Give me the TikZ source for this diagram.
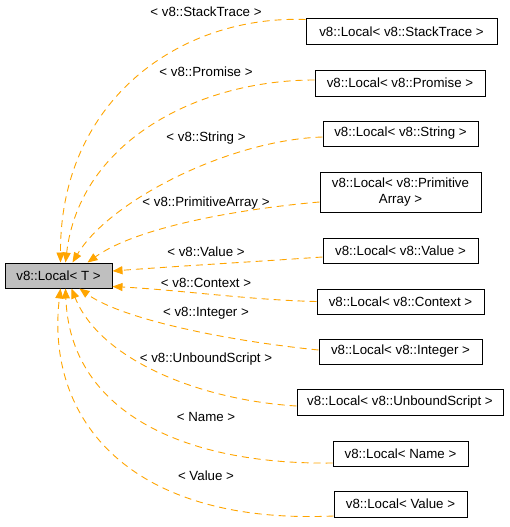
\documentclass[tikz,border=0pt]{standalone}
\usepackage{fontspec}
\setmainfont{Liberation Sans}
\usetikzlibrary{arrows.meta}
\definecolor{edgeorange}{HTML}{FFA500}
\definecolor{maingrey}{HTML}{BFBFBF}
\begin{document}
\begin{tikzpicture}[x=1pt,y=-1pt,
  every node/.style={font=\fontsize{13.3}{15.5}\selectfont, inner sep=0pt},
  cls/.style={draw=black, line width=1pt, fill=white, align=center},
  mainbox/.style={cls, fill=maingrey},
  lbl/.style={},
  edge/.style={draw=edgeorange, line width=0.9pt, dash pattern=on 7pt off 5pt,
    -{Triangle[length=10pt,width=8pt,fill=edgeorange,sep=0pt]}}]
\useasboundingbox (0,0) rectangle (509,527);
\fill[white] (0,0) rectangle (509,527);
% nodes
\node[mainbox, minimum width=107pt, minimum height=25pt] (main) at (58.5,275.5) {v8::Local{\fontsize{13.3}{15.5}\selectfont<} T >};
\node[cls, minimum width=191pt, minimum height=26pt] (st)  at (401.5,32) {v8::Local< v8::StackTrace >};
\node[cls, minimum width=170pt, minimum height=26pt] (pr)  at (400,83) {v8::Local< v8::Promise >};
\node[cls, minimum width=155pt, minimum height=25pt] (str) at (400.5,133.5) {v8::Local< v8::String >};
\node[cls, minimum width=161pt, minimum height=40pt] (pa)  at (400.5,192) {v8::Local< v8::Primitive\\Array >};
\node[cls, minimum width=155pt, minimum height=25pt] (val) at (400.5,250.5) {v8::Local< v8::Value >};
\node[cls, minimum width=167pt, minimum height=25pt] (ctx) at (400.5,301.5) {v8::Local< v8::Context >};
\node[cls, minimum width=163pt, minimum height=25pt] (int) at (400.5,351.5) {v8::Local< v8::Integer >};
\node[cls, minimum width=206pt, minimum height=26pt] (ub)  at (400,402) {v8::Local< v8::UnboundScript >};
\node[cls, minimum width=135pt, minimum height=25pt] (nm)  at (400.5,453.5) {v8::Local< Name >};
\node[cls, minimum width=133pt, minimum height=26pt] (vl)  at (400.5,504) {v8::Local< Value >};
% edges
\draw[edge] ([yshift=-1pt]st.north west) .. controls (180,15) and (60,100) .. ([xshift=56pt]main.north west);
\draw[edge] ([yshift=3pt]pr.west) .. controls (200,80) and (80,140) .. ([xshift=61pt]main.north west);
\draw[edge] ([yshift=-3.5pt]str.west) .. controls (230,140) and (110,200) .. ([xshift=68pt]main.north west);
\draw[edge] ([yshift=-10pt]pa.west) .. controls (250,208) and (140,225) .. ([xshift=83pt]main.north west);
\draw[edge] ([yshift=-6.5pt]val.west) .. controls (250,262) and (180,266) .. ([yshift=4.5pt]main.east);
\draw[edge] (ctx.west) .. controls (250,300) and (180,290) .. ([yshift=2pt]main.south east);
\draw[edge] ([yshift=1.5pt]int.west) .. controls (220,340) and (120,318) .. ([xshift=75pt]main.south west);
\draw[edge] ([yshift=-4pt]ub.west) .. controls (200,400) and (100,360) .. ([xshift=67pt]main.south west);
\draw[edge] ([yshift=-9.5pt]nm.west) .. controls (180,465) and (70,410) .. ([xshift=61pt]main.south west);
\draw[edge] ([yshift=-12pt]vl.west) .. controls (130,525) and (45,420) .. ([xshift=56pt]main.south west);
% labels
\node[lbl] (l1)  at (206,12)  {< v8::StackTrace >};
\node[lbl] (l2)  at (206,72)  {< v8::Promise >};
\node[lbl] (l3)  at (206,138) {< v8::String >};
\node[lbl] (l4)  at (206,203) {< v8::PrimitiveArray >};
\node[lbl] (l5)  at (206,252) {< v8::Value >};
\node[lbl] (l6)  at (206,283) {< v8::Context >};
\node[lbl] (l7)  at (206,313) {< v8::Integer >};
\node[lbl] (l8)  at (206,359) {< v8::UnboundScript >};
\node[lbl] (l9)  at (206,417) {< Name >};
\node[lbl] (l10) at (206,476) {< Value >};
\end{tikzpicture}
\end{document}
